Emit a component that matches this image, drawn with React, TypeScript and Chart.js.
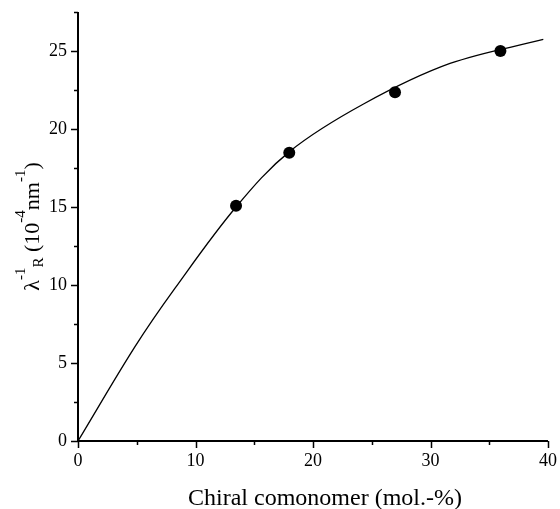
import React, { useEffect, useRef } from "react";
import { Chart, registerables } from "chart.js";

Chart.register(...registerables);

// ---- data ----
const xMajorTicks = [0, 10, 20, 30, 40];
const xMinorTicks = [5, 15, 25, 35];
const yMajorTicks = [0, 5, 10, 15, 20, 25];
const yMinorTicks = [2.5, 7.5, 12.5, 17.5, 22.5, 27.5];

const measuredX = [13.45, 17.98, 26.98, 35.95];
const measuredY = [15.08, 18.48, 22.35, 25.0];

const fitX = [0, 4.85, 8.26, 13.45, 18.0, 24.3, 31.66, 39.6];
const fitY = [0, 6.05, 9.8, 15.0, 18.55, 21.6, 24.2, 25.74];

const xTitle = "Chiral comonomer (mol.-%)";
// y title pieces: [text, mode]
const yTitleParts: [string, "n" | "sup" | "sub"][] = [
  ["λ", "n"],
  ["-1", "sup"],
  ["R", "sub"],
  [" (10", "n"],
  ["-4", "sup"],
  ["nm", "n"],
  ["-1", "sup"],
  [")", "n"],
];

const SERIF = '"Liberation Serif", "Times New Roman", serif';

const axesPlugin = {
  id: "customAxes",
  afterDraw(chart: any) {
    const ctx = chart.ctx as CanvasRenderingContext2D;
    const xs = chart.scales.x;
    const ys = chart.scales.y;
    const x0 = xs.getPixelForValue(0);
    const x1 = xs.getPixelForValue(40);
    const y0 = ys.getPixelForValue(0);
    const yTop = ys.getPixelForValue(27.5);
    ctx.save();
    ctx.strokeStyle = "#000";
    ctx.fillStyle = "#000";
    ctx.lineWidth = 2;
    ctx.beginPath();
    ctx.moveTo(x0, yTop);
    ctx.lineTo(x0, y0);
    ctx.moveTo(x0, y0);
    ctx.lineTo(x1, y0);
    ctx.stroke();

    ctx.lineWidth = 1.5;
    ctx.beginPath();
    for (const v of yMajorTicks) {
      const p = Math.round(ys.getPixelForValue(v)) + 0.5;
      ctx.moveTo(x0 - 7, p);
      ctx.lineTo(x0, p);
    }
    for (const v of yMinorTicks) {
      const p = Math.round(ys.getPixelForValue(v)) + 0.5;
      ctx.moveTo(x0 - 4, p);
      ctx.lineTo(x0, p);
    }
    for (const v of xMajorTicks) {
      const p = Math.round(xs.getPixelForValue(v)) + 0.5;
      ctx.moveTo(p, y0);
      ctx.lineTo(p, y0 + 7);
    }
    for (const v of xMinorTicks) {
      const p = Math.round(xs.getPixelForValue(v)) + 0.5;
      ctx.moveTo(p, y0);
      ctx.lineTo(p, y0 + 4);
    }
    ctx.stroke();

    // x title
    ctx.font = `24px ${SERIF}`;
    ctx.textAlign = "center";
    ctx.textBaseline = "alphabetic";
    ctx.fillText(xTitle, (x0 + x1) / 2 + 12, 505);

    // y title (rotated, with super/subscripts)
    const mainFont = `22px ${SERIF}`;
    const smallFont = `15px ${SERIF}`;
    const widths = yTitleParts.map(([t, m]) => {
      ctx.font = m === "n" ? mainFont : smallFont;
      return ctx.measureText(t).width;
    });
    const total = widths.reduce((a, b) => a + b, 0);
    const cy = (yTop + y0) / 2;
    ctx.translate(39, cy);
    ctx.rotate(-Math.PI / 2);
    ctx.textAlign = "left";
    let u = -total / 2;
    yTitleParts.forEach(([t, m], i) => {
      ctx.font = m === "n" ? mainFont : smallFont;
      const v = m === "sup" ? -14 : m === "sub" ? 4 : 0;
      ctx.fillText(t, u, v);
      u += widths[i];
    });
    ctx.restore();
  },
};

export default function App() {
  const ref = useRef<HTMLCanvasElement | null>(null);
  useEffect(() => {
    if (!ref.current) return;
    const chart = new Chart(ref.current, {
      type: "scatter",
      data: {
        datasets: [
          {
            data: fitX.map((x, i) => ({ x, y: fitY[i] })),
            showLine: true,
            borderColor: "#000",
            borderWidth: 1.3,
            pointRadius: 0,
            tension: 0.35,
            fill: false,
          } as any,
          {
            data: measuredX.map((x, i) => ({ x, y: measuredY[i] })),
            pointRadius: 6,
            pointBackgroundColor: "#000",
            pointBorderWidth: 0,
            backgroundColor: "#000",
            borderColor: "#000",
          },
        ],
      },
      options: {
        responsive: false,
        animation: false,
        devicePixelRatio: 1,
        layout: { padding: { top: 12, right: 12, left: 0, bottom: 0 } },
        plugins: { legend: { display: false }, tooltip: { enabled: false } },
        scales: {
          x: {
            type: "linear",
            min: 0,
            max: 40,
            afterBuildTicks: (s: any) => {
              s.ticks = xMajorTicks.map((v) => ({ value: v }));
            },
            afterFit: (s: any) => {
              s.height = 68;
              s.paddingLeft = 0;
              s.paddingRight = 0;
            },
            ticks: {
              font: { family: SERIF, size: 18 },
              color: "#000",
              padding: 9,
              maxRotation: 0,
            },
            grid: { display: false, drawTicks: false },
            border: { display: false },
          },
          y: {
            type: "linear",
            min: 0,
            max: 27.5,
            afterBuildTicks: (s: any) => {
              s.ticks = yMajorTicks.map((v) => ({ value: v }));
            },
            afterFit: (s: any) => {
              s.width = 78;
              s.paddingTop = 0;
              s.paddingBottom = 0;
            },
            ticks: {
              font: { family: SERIF, size: 18 },
              color: "#000",
              padding: 11,
            },
            grid: { display: false, drawTicks: false },
            border: { display: false },
          },
        },
      },
      plugins: [axesPlugin],
    });
    return () => chart.destroy();
  }, []);
  return (
    <div style={{ position: "absolute", left: 0, top: 0, width: 560, height: 509 }}>
      <canvas ref={ref} width={560} height={509} />
    </div>
  );
}
